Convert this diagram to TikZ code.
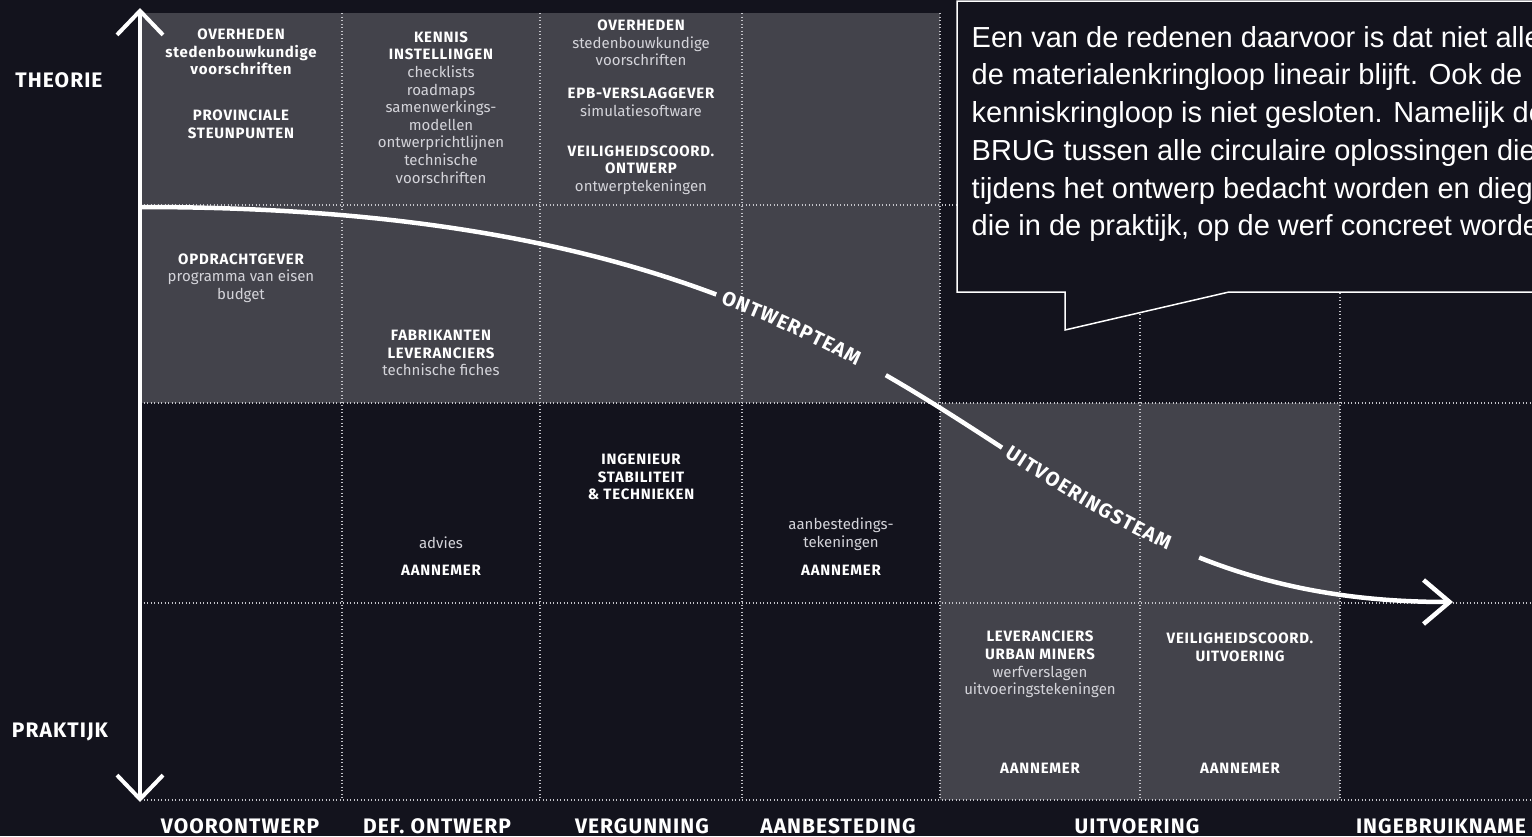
\documentclass[tikz,border=0pt]{standalone}
\usepackage{fontspec}
\setmainfont{Fira Sans}[BoldFeatures={LetterSpace=5}]
\newfontfamily\bubblefont{Liberation Sans}
\usepackage{tikz}
\usetikzlibrary{arrows.meta,decorations.text}
\definecolor{nightbg}{HTML}{13131D}
\definecolor{panelgrey}{HTML}{43434B}
\definecolor{dotgrey}{HTML}{C4C4CA}
\definecolor{litegrey}{HTML}{D4D4DA}
\newcommand{\lite}[1]{{\mdseries\color{litegrey}#1}}

\begin{document}
\begin{tikzpicture}[x=1pt,y=-1pt,
	panel/.style={fill=panelgrey},
	gridline/.style={draw=dotgrey, line width=1.1pt, dash pattern=on 1.1pt off 2.4pt},
	role/.style={text=white, align=center, inner sep=0pt, font=\bfseries\fontsize{15}{17.6}\selectfont},
	phase/.style={text=white, inner sep=0pt, font=\bfseries\fontsize{21}{21}\selectfont},
	axisline/.style={white, line width=4pt, {Straight Barb[length=24pt,width=46pt]}-{Straight Barb[length=24pt,width=46pt]}},
	teamline/.style={white, line width=4.5pt, -{Straight Barb[length=26pt,width=44pt]}},
	teamlabel/.style={decorate, decoration={text along path, text color=white, raise=-7pt}},
	bubble/.style={fill=nightbg, draw=white, line width=1.5pt}]
	\useasboundingbox (0,0) rectangle (1532,836);
	\fill[nightbg] (0,0) rectangle (1532,836);
	\fill[panel] (140,13) rectangle (940,403);
	\fill[panel] (940,403) rectangle (1340,800);
	% dotted grid
	\foreach \gx in {342,540,742,940,1140,1340}
		\draw[gridline] (\gx,13) -- (\gx,800);
	\foreach \gy in {205,403,603,800}
		\draw[gridline] (140,\gy) -- (1532,\gy);

	% theorie - praktijk axis
	\coordinate (theorietop) at (140,8);
	\coordinate (praktijkbottom) at (140,802);
	\draw[axisline] (praktijkbottom) -- (theorietop);
	\node[phase] (theorie) at (59,80) {THEORIE};
	\node[phase] (praktijk) at (60,732) {PRAKTIJK};

	% team curve
	\coordinate (teamstart) at (141,207);
	\coordinate (bendA) at (1000,207);
	\coordinate (bendB) at (963,602);
	\coordinate (teamend) at (1453,602);
	\draw[teamline, dash pattern=on 585pt off 188pt on 137pt off 226pt on 600pt] (teamstart) .. controls (bendA) and (bendB) .. (teamend);
	\path[teamlabel, decoration={text align={left indent=592pt},
		text={|\bfseries\fontsize{20}{20}\selectfont|{O\kern1.2pt}{N\kern1.2pt}{T\kern1.2pt}{W\kern1.2pt}{E\kern1.2pt}{R\kern1.2pt}{P\kern1.2pt}{T\kern1.2pt}{E\kern1.2pt}{A\kern1.2pt}{M}}}]
		(teamstart) .. controls (bendA) and (bendB) .. (teamend);
	\path[teamlabel, decoration={text align={left indent=917pt},
		text={|\bfseries\fontsize{20}{20}\selectfont|{U\kern1.2pt}{I\kern1.2pt}{T\kern1.2pt}{V\kern1.2pt}{O\kern1.2pt}{E\kern1.2pt}{R\kern1.2pt}{I\kern1.2pt}{N\kern1.2pt}{G\kern1.2pt}{S\kern1.2pt}{T\kern1.2pt}{E\kern1.2pt}{A\kern1.2pt}{M}}}]
		(teamstart) .. controls (bendA) and (bendB) .. (teamend);

	% cells, theorie rows
	\node[role] (overheden) at (241,52) {OVERHEDEN\\stedenbouwkundige\\voorschriften};
	\node[role] (provinciale) at (241,124) {PROVINCIALE\\STEUNPUNTEN};
	\node[role] (kennis) at (441,107.5) {KENNIS\\INSTELLINGEN\\\lite{checklists}\\\lite{roadmaps}\\\lite{samenwerkings-}\\\lite{modellen}\\\lite{ontwerprichtlijnen}\\\lite{technische}\\\lite{voorschriften}};
	\node[role] (overhedenB) at (641,43) {OVERHEDEN\\\lite{stedenbouwkundige}\\\lite{voorschriften}};
	\node[role] (epb) at (641,102) {EPB-VERSLAGGEVER\\\lite{simulatiesoftware}};
	\node[role] (veiligontwerp) at (641,170) {VEILIGHEIDSCOORD.\\ONTWERP\\\lite{ontwerptekeningen}};
	\node[role] (opdrachtgever) at (241,278) {OPDRACHTGEVER\\\lite{programma van eisen}\\\lite{budget}};
	\node[role] (fabrikanten) at (441,353) {FABRIKANTEN\\LEVERANCIERS\\\lite{technische fiches}};

	% cells, praktijk rows
	\node[role] (ingenieur) at (641,477) {INGENIEUR\\STABILITEIT\\\&~TECHNIEKEN};
	\node[role] (advies) at (441,543) {\lite{advies}};
	\node[role] (aannemerA) at (441,570) {AANNEMER};
	\node[role] (aanbesteding) at (841,534.5) {\lite{aanbestedings-}\\\lite{tekeningen}};
	\node[role] (aannemerB) at (841,570) {AANNEMER};
	\node[role] (urbanminers) at (1040,664.5) {LEVERANCIERS\\URBAN MINERS\\\lite{werfverslagen}\\\lite{uitvoeringstekeningen}};
	\node[role] (aannemerC) at (1040,768) {AANNEMER};
	\node[role] (veiliguitvoering) at (1240,647) {VEILIGHEIDSCOORD.\\UITVOERING};
	\node[role] (aannemerD) at (1240,768) {AANNEMER};

	% phases
	\node[phase] (voorontwerp) at (240,826) {VOORONTWERP};
	\node[phase] (defontwerp) at (437,826) {DEF. ONTWERP};
	\node[phase] (vergunning) at (642,826) {VERGUNNING};
	\node[phase] (aanbestedingfase) at (838,826) {AANBESTEDING};
	\node[phase] (uitvoering) at (1137,826) {UITVOERING};
	\node[phase] (ingebruikname) at (1441,826) {INGEBRUIKNAME};

	% speech bubble
	\path[bubble] (1545,1) -- (957,1) -- (957,292) -- (1065,292) -- (1065,330) -- (1229,292) -- (1545,292);
	\node[anchor=north west, inner sep=0pt, align=left, text=white, font=\bubblefont\fontsize{29}{37.7}\selectfont] (bubbletext) at (971.5,26)
		{Een van de redenen daarvoor is dat niet alleen\\de materialenkringloop lineair blijft. Ook de\\kenniskringloop is niet gesloten. Namelijk de\\BRUG tussen alle circulaire oplossingen die\\tijdens het ontwerp bedacht worden en diegene\\die in de praktijk, op de werf concreet worden};
\end{tikzpicture}
\end{document}
